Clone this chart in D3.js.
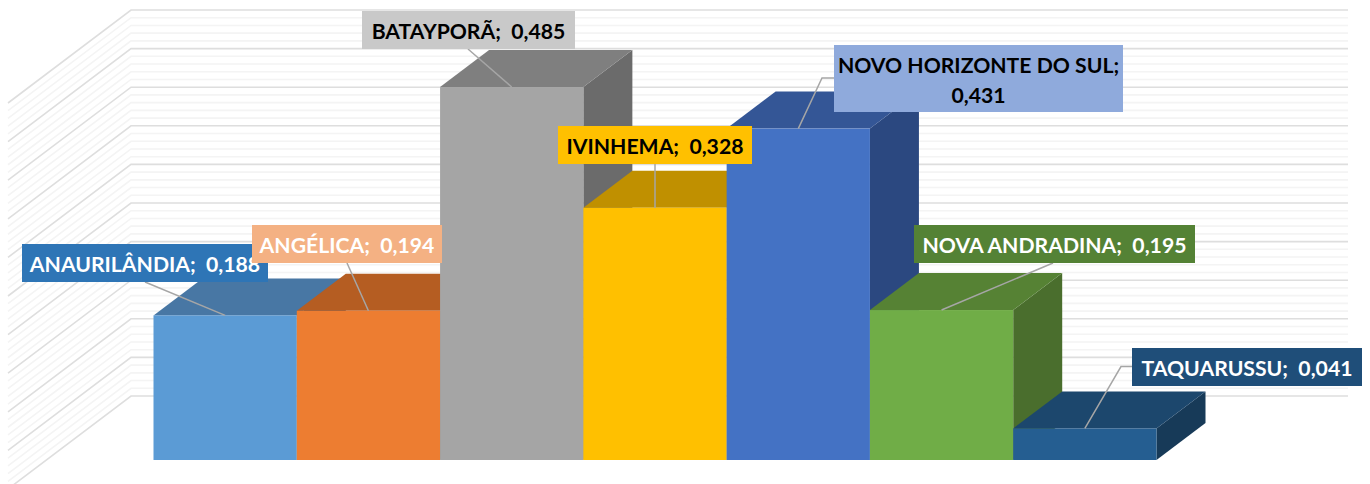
<!DOCTYPE html>
<html><head><meta charset="utf-8">
<script src="https://cdnjs.cloudflare.com/ajax/libs/d3/7.8.5/d3.min.js"></script>
<style>html,body{margin:0;padding:0;background:#fff;overflow:hidden}svg{display:block}text{font-family:Lato,"Open Sans",sans-serif;font-weight:700;white-space:pre}</style>
</head><body><svg id="c" width="1370" height="484"></svg>
<script>
const categories=["ANAURILÂNDIA","ANGÉLICA","BATAYPORÃ","IVINHEMA","NOVO HORIZONTE DO SUL","NOVA ANDRADINA","TAQUARUSSU"];
const values=[0.188,0.194,0.485,0.328,0.431,0.195,0.041];
const frontColors=["#5B9BD5","#ED7D31","#A5A5A5","#FFC000","#4472C4","#70AD47","#255E91"];
const topColors=["#4877A4","#B55D22","#7F7F7F","#C09000","#345696","#568234","#1C476D"];
const sideColors=["#3D6285","#974E1D","#6B6B6B","#A17A00","#2B4880","#4A6E2D","#173A58"];
const labelFill=["#2E75B6","#F4B183","#C9C9C9","#FFC000","#8FAADC","#548235","#1F4E79"];
const labelText=["#fff","#fff","#000","#000","#000","#fff","#fff"];
const labelBoxes=[[22,244,246,38],[252,225,190,38],[362,11,213,38],[558,126,194,38],[834,45,289,67],[914,225,281,38],[1132,348,230,38]];
const leaderStarts=[[[145,282]],[[347,263]],[[468,49]],[[655,164]],[[834,78],[822,78]],[[1053,263]],[[1132,366.5],[1121,366.5]]];
const drawOrder=[0,1,2,3,4,5,6];
const fmt=d3.format(".3f");
const svg=d3.select("#c");
const x=d3.scaleBand().domain(categories).range([153.5,1156.5]).padding(0);
const y=d3.scaleLinear().domain([0,0.5]).range([460,75.5]);
const wallY=d3.scaleLinear().domain([0,0.5]).range([396,10]);
const depth={dx:49,dy:-37};
const wall={left:131,right:1348,dx:-123,dy:93};
const grid=d3.range(0,51).map(i=>i/100);
const isMajor=v=>Math.round(v*100)%5===0;

// back and side walls: minor first, major on top
const gridG=svg.append("g").attr("fill","none");
gridG.selectAll("path").data(grid.slice().sort((a,b)=>isMajor(a)-isMajor(b))).join("path")
 .attr("d",v=>d3.line()([[wall.left+wall.dx,wallY(v)+wall.dy],[wall.left,wallY(v)],[wall.right,wallY(v)]]))
 .attr("stroke",v=>isMajor(v)?"#DEDEDE":"#F4F4F4")
 .attr("stroke-width",1.6);

// bars
const bars=svg.append("g").selectAll("g").data(drawOrder).join("g");
const poly=p=>d3.line()(p)+"Z";
bars.append("path").attr("fill",i=>sideColors[i]).attr("d",i=>{
  const r=x(categories[i])+x.bandwidth(),t=y(values[i]),b=y(0);
  return poly([[r,t],[r+depth.dx,t+depth.dy],[r+depth.dx,b+depth.dy],[r,b]]);});
bars.append("path").attr("fill",i=>topColors[i]).attr("d",i=>{
  const l=x(categories[i]),r=l+x.bandwidth(),t=y(values[i]);
  return poly([[l,t],[l+depth.dx,t+depth.dy],[r+depth.dx,t+depth.dy],[r,t]]);});
bars.append("rect").attr("fill",i=>frontColors[i])
 .attr("x",i=>x(categories[i])).attr("y",i=>y(values[i]))
 .attr("width",x.bandwidth()).attr("height",i=>y(0)-y(values[i]));

// leader lines
svg.append("g").attr("fill","none").selectAll("path").data(drawOrder).join("path")
 .attr("stroke","#A6A6A6").attr("stroke-width",1.5)
 .attr("d",i=>d3.line()([...leaderStarts[i],[x(categories[i])+x.bandwidth()/2,y(values[i])]]));

// labels
const lab=svg.append("g").selectAll("g").data(drawOrder).join("g");
lab.append("rect").attr("fill",i=>labelFill[i])
 .attr("x",i=>labelBoxes[i][0]).attr("y",i=>labelBoxes[i][1])
 .attr("width",i=>labelBoxes[i][2]).attr("height",i=>labelBoxes[i][3]);
lab.each(function(i){
  const b=labelBoxes[i],val=fmt(values[i]).replace(".",",");
  const lines=b[3]>50?[categories[i]+";",val]:[categories[i]+";  "+val];
  const cx=b[0]+b[2]/2,lh=30,cy=b[1]+b[3]/2;
  d3.select(this).selectAll("text").data(lines).join("text")
   .attr("x",cx).attr("y",(d,k)=>cy+1.5+(k-(lines.length-1)/2)*lh)
   .attr("dy","0.36em").attr("text-anchor","middle")
   .attr("font-size",21.2).attr("fill",labelText[i]).text(d=>d);
});
</script></body></html>
